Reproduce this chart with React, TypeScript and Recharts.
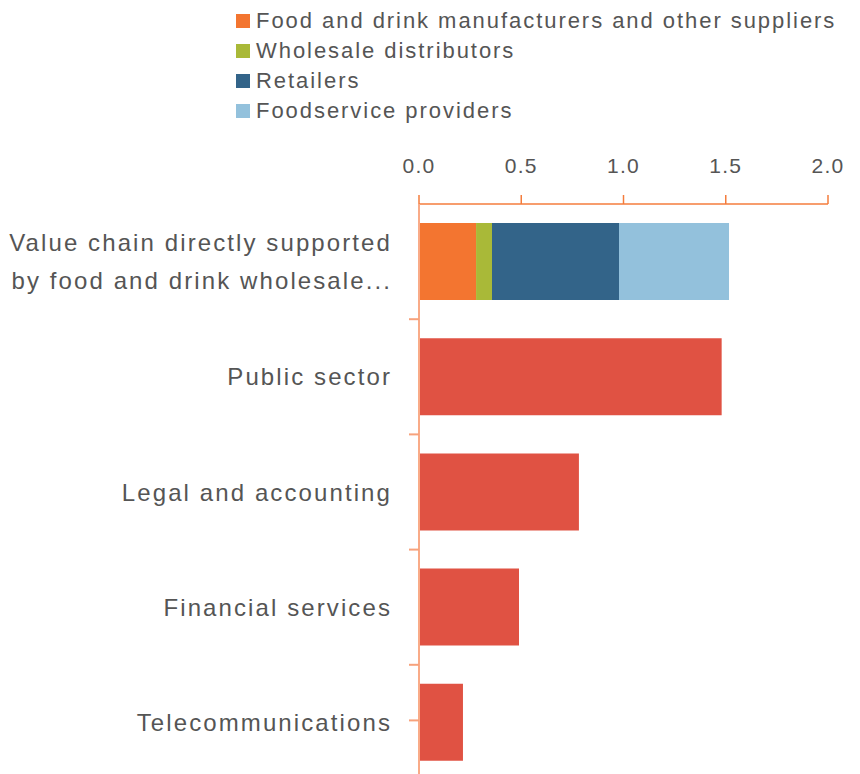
import React from "react";
import { BarChart, Bar, XAxis, YAxis, Legend } from "recharts";

const categories = [
  "Value chain directly supported\nby food and drink wholesale...",
  "Public sector",
  "Legal and accounting",
  "Financial services",
  "Telecommunications",
];
const manufacturers = [0.279, null, null, null, null];
const distributors = [0.078, null, null, null, null];
const retailers = [0.621, null, null, null, null];
const foodservice = [0.538, null, null, null, null];
const otherSectors = [null, 1.48, 0.782, 0.489, 0.215];
const xTicks = [0, 0.5, 1, 1.5, 2];

const seriesNames = [
  "Food and drink manufacturers and other suppliers",
  "Wholesale distributors",
  "Retailers",
  "Foodservice providers",
];
const seriesColors = ["#f37530", "#a9b938", "#336489", "#93c1dc"];

const data = categories.map((c, i) => ({
  category: c,
  manufacturers: manufacturers[i],
  distributors: distributors[i],
  retailers: retailers[i],
  foodservice: foodservice[i],
  other: otherSectors[i],
}));

const W = 860;
const H = 790;
const M = { top: 154, right: 32, bottom: 10, left: 0 };
const X_AXIS_H = 50;
const Y_AXIS_W = 419;
const PLOT_H = H - M.top - M.bottom - X_AXIS_H;
const BAND = PLOT_H / categories.length;

const TEXT = "#555555";
const FONT = "'Liberation Sans', Arial, sans-serif";

const YTick = (props: any) => {
  const { x, y, payload, index } = props;
  const lines = String(payload.value).split("\n");
  const lh = 38;
  const tickY = index < categories.length - 1 ? y + BAND / 2 : y - 2;
  return (
    <g>
      <line x1={x - 10} x2={x} y1={tickY} y2={tickY} stroke="#f7a27c" strokeWidth={2} />
      {lines.map((l, i) => (
        <text
          key={i}
          x={x - 27}
          y={y + (i - (lines.length - 1) / 2) * lh}
          dy="0.36em"
          textAnchor="end"
          fill={TEXT}
          fontSize={24}
          style={{ letterSpacing: "2.1px" }}
        >
          {l}
        </text>
      ))}
    </g>
  );
};

const XTick = (props: any) => {
  const { x, y, payload } = props;
  return (
    <text x={x} y={y} textAnchor="middle" fill={TEXT} fontSize={21} style={{ letterSpacing: "1.2px" }}>
      {Number(payload.value).toFixed(1)}
    </text>
  );
};

const LegendContent = () => (
  <div style={{ fontFamily: FONT }}>
    {seriesNames.map((name, i) => (
      <div key={name} style={{ display: "flex", alignItems: "center", height: 30 }}>
        <span style={{ display: "inline-block", width: 14, height: 14, background: seriesColors[i], marginRight: 6 }} />
        <span style={{ fontSize: 22, color: TEXT, letterSpacing: "1.95px", whiteSpace: "nowrap" }}>{name}</span>
      </div>
    ))}
  </div>
);

export default function App() {
  return (
    <div
      style={{
        position: "absolute",
        left: 0,
        top: 0,
        width: 860,
        height: 774,
        overflow: "hidden",
        background: "#fff",
        fontFamily: FONT,
      }}
    >
      <BarChart
        width={W}
        height={H}
        data={data}
        layout="vertical"
        margin={M}
        barCategoryGap="16.5%"
        style={{ fontFamily: FONT }}
      >
        <XAxis
          type="number"
          orientation="top"
          domain={[0, 2]}
          ticks={xTicks}
          height={X_AXIS_H}
          tickSize={9}
          tickMargin={22}
          axisLine={{ stroke: "#f47c3c", strokeWidth: 1.5 }}
          tickLine={{ stroke: "#f47c3c", strokeWidth: 1.5 }}
          tick={<XTick />}
        />
        <YAxis
          type="category"
          dataKey="category"
          width={Y_AXIS_W}
          tickSize={0}
          tickMargin={0}
          tickLine={false}
          axisLine={{ stroke: "#f9ab88", strokeWidth: 2 }}
          tick={<YTick />}
          interval={0}
        />
        <Legend
          layout="vertical"
          align="center"
          verticalAlign="middle"
          wrapperStyle={{ position: "absolute", top: 6, left: 236, width: 620, height: 120 }}
          content={<LegendContent />}
        />
        <Bar dataKey="manufacturers" name={seriesNames[0]} stackId="s" fill={seriesColors[0]} isAnimationActive={false} />
        <Bar dataKey="distributors" name={seriesNames[1]} stackId="s" fill={seriesColors[1]} isAnimationActive={false} />
        <Bar dataKey="retailers" name={seriesNames[2]} stackId="s" fill={seriesColors[2]} isAnimationActive={false} />
        <Bar dataKey="foodservice" name={seriesNames[3]} stackId="s" fill={seriesColors[3]} isAnimationActive={false} />
        <Bar dataKey="other" name="Other sectors" stackId="s" fill="#e05243" legendType="none" isAnimationActive={false} />
      </BarChart>
    </div>
  );
}
